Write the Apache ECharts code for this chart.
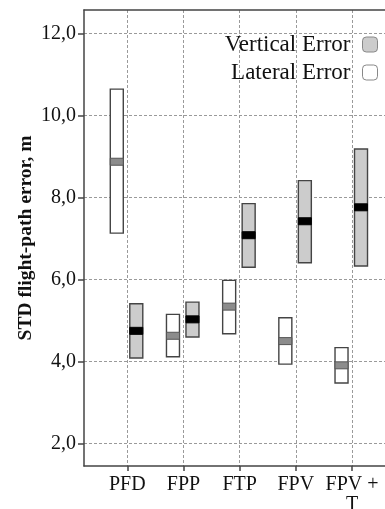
<!DOCTYPE html>
<html>
<head>
<meta charset="utf-8">
<script src="https://cdn.jsdelivr.net/npm/echarts@6/dist/echarts.min.js"></script>
<style>
html,body{margin:0;padding:0;background:#fff;}
#chart{width:385px;height:509px;}
</style>
</head>
<body>
<div id="chart"></div>
<script>
// ---- data ----
const categories = ['PFD', 'FPP', 'FTP', 'FPV', 'FPV +\nT'];
const lateralLow    = [7.13, 4.12, 4.68, 3.94, 3.48];
const lateralHigh   = [10.64, 5.15, 5.98, 5.07, 4.34];
const lateralMedian = [8.87, 4.63, 5.34, 4.50, 3.91];
const verticalLow    = [4.09, 4.60, 6.30, 6.41, 6.33];
const verticalHigh   = [5.41, 5.45, 7.85, 8.41, 9.18];
const verticalMedian = [4.75, 5.03, 7.08, 7.42, 7.76];
const yTicks = [2, 4, 6, 8, 10, 12];
const xTicks = [1, 2, 3, 4, 5];

// ---- styling ----
const FONT = "'Liberation Serif', 'Times New Roman', serif";
const BOX_W = 13;
const MED_H = 7;

function buildData(low, high, med) {
  return categories.map((c, i) => [i + 1, low[i], high[i], med[i]]);
}

function makeRender(offsetPx, fill, medFill, medStroke) {
  return function (params, api) {
    const x = api.value(0);
    const pTop = api.coord([x, api.value(2)]);
    const pBot = api.coord([x, api.value(1)]);
    const pMed = api.coord([x, api.value(3)]);
    const cx = pTop[0] + offsetPx;
    return {
      type: 'group',
      children: [
        {
          type: 'rect',
          shape: { x: cx - BOX_W / 2, y: pTop[1], width: BOX_W, height: pBot[1] - pTop[1] },
          style: { fill: fill, stroke: '#444', lineWidth: 1.4 }
        },
        {
          type: 'rect',
          shape: { x: cx - BOX_W / 2, y: pMed[1] - MED_H / 2, width: BOX_W, height: MED_H },
          style: { fill: medFill, stroke: medStroke, lineWidth: 1 }
        }
      ]
    };
  };
}

const splitStyle = { color: '#9a9a9a', width: 1, type: [3, 2] };

const chart = echarts.init(document.getElementById('chart'), null, { renderer: 'canvas' });
chart.setOption({
  animation: false,
  backgroundColor: '#fff',
  grid: { left: 84, top: 10, right: 0, bottom: 43, outerBoundsMode: 'none', containLabel: false },
  legend: {
    orient: 'vertical',
    align: 'right',
    right: 2,
    top: 28,
    itemWidth: 15,
    itemHeight: 15,
    itemGap: 5,
    textStyle: { fontFamily: FONT, fontSize: 23, color: '#111', lineHeight: 23, padding: [0, 7, 0, 0] },
    data: [
      { name: 'Vertical Error', icon: 'roundRect', itemStyle: { color: '#cccccc', borderColor: '#888', borderWidth: 1 } },
      { name: 'Lateral Error', icon: 'roundRect', itemStyle: { color: '#ffffff', borderColor: '#888', borderWidth: 1 } }
    ]
  },
  xAxis: [
    {
      type: 'value',
      min: 0.2295,
      max: 5.587,
      axisLine: { show: true, lineStyle: { color: '#444', width: 1.5 } },
      axisTick: { show: true, length: 5, customValues: xTicks, lineStyle: { color: '#444', width: 1.5 } },
      axisLabel: {
        customValues: xTicks,
        formatter: v => categories[Math.round(v) - 1] || '',
        fontFamily: FONT, fontSize: 20, color: '#111', margin: 9, lineHeight: 20
      },
      splitLine: { show: true, showMinLine: true, showMaxLine: true, lineStyle: splitStyle }
    },
    {
      type: 'value',
      position: 'top',
      min: 0.2295,
      max: 5.587,
      axisLine: { show: true, lineStyle: { color: '#444', width: 1.5 } },
      axisTick: { show: false },
      axisLabel: { show: false },
      splitLine: { show: false }
    }
  ],
  yAxis: {
    type: 'value',
    min: 1.457,
    max: 12.567,
    name: 'STD flight-path error, m',
    nameLocation: 'middle',
    nameGap: 48,
    nameMoveOverlap: false,
    nameTextStyle: { fontFamily: FONT, fontSize: 19.5, fontWeight: 'bold', color: '#111' },
    axisLine: { show: true, lineStyle: { color: '#444', width: 1.5 } },
    axisTick: { show: true, length: 6, customValues: yTicks, lineStyle: { color: '#444', width: 1.5 } },
    axisLabel: {
      customValues: yTicks,
      formatter: v => v.toFixed(1).replace('.', ','),
      fontFamily: FONT, fontSize: 20, color: '#111', margin: 8
    },
    splitLine: { show: true, showMinLine: true, showMaxLine: true, lineStyle: splitStyle }
  },
  series: [
    {
      name: 'Vertical Error',
      type: 'custom',
      renderItem: makeRender(9, '#cccccc', '#000000', '#000000'),
      itemStyle: { color: '#cccccc' },
      encode: { x: 0, y: [1, 2, 3] },
      data: buildData(verticalLow, verticalHigh, verticalMedian),
      z: 3
    },
    {
      name: 'Lateral Error',
      type: 'custom',
      renderItem: makeRender(-10.5, '#ffffff', '#8c8c8c', '#555555'),
      itemStyle: { color: '#ffffff' },
      encode: { x: 0, y: [1, 2, 3] },
      data: buildData(lateralLow, lateralHigh, lateralMedian),
      z: 3
    }
  ]
});
</script>
</body>
</html>
